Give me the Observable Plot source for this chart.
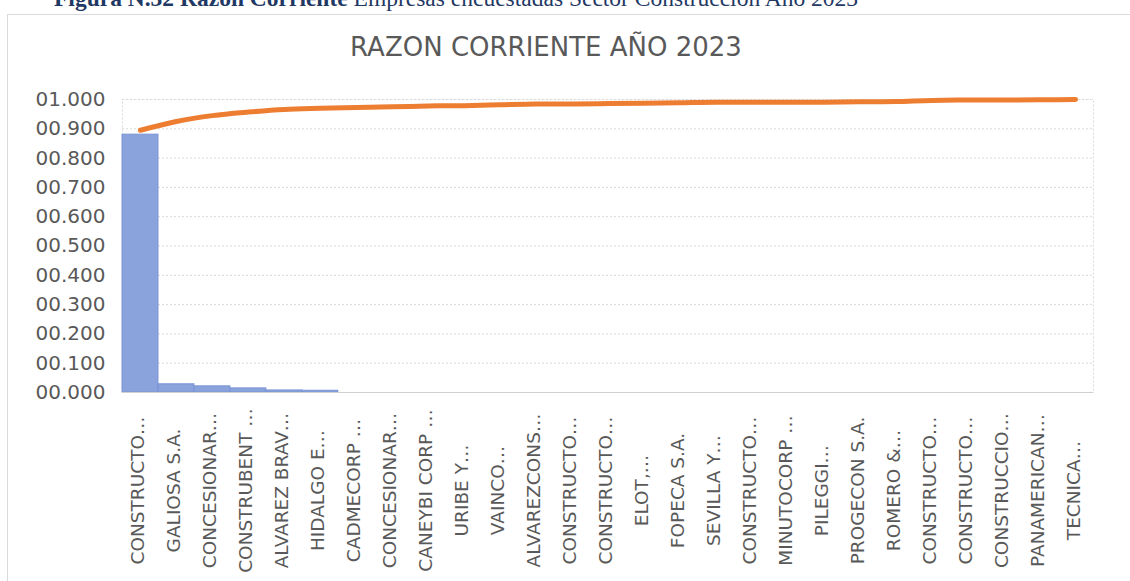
<!DOCTYPE html>
<html><head><meta charset="utf-8">
<script src="https://cdn.jsdelivr.net/npm/d3@7"></script>
<script src="https://cdn.jsdelivr.net/npm/@observablehq/plot@0.6"></script>
<style>
html,body{margin:0;padding:0;background:#fff;width:1130px;height:581px;overflow:hidden;position:relative;}
#caption{position:absolute;left:54px;top:-13px;font-family:"Liberation Serif",serif;font-size:23.5px;line-height:23.5px;color:#1f3864;white-space:nowrap;}
#frame{position:absolute;left:7px;top:14px;width:1130px;height:600px;border:1px solid #d9d9d9;box-sizing:border-box;}
#title{position:absolute;left:0;width:1092px;top:34px;text-align:center;font-family:"DejaVu Sans",sans-serif;font-size:26px;line-height:26px;color:#595959;white-space:nowrap;}
#chart{position:absolute;left:0;top:0;}
</style></head>
<body>
<div id="caption"><b>Figura N.32 Razon Corriente</b> Empresas encuestadas Sector Construcción Año 2023</div>
<div id="frame"></div>
<div id="title">RAZON CORRIENTE AÑO 2023</div>
<div id="chart"></div>
<script>
const companies = ["CONSTRUCTO…","GALIOSA S.A.","CONCESIONAR…","CONSTRUBENT …","ALVAREZ BRAV…","HIDALGO E…","CADMECORP …","CONCESIONAR…","CANEYBI CORP …","URIBE Y…","VAINCO…","ALVAREZCONS…","CONSTRUCTO…","CONSTRUCTO…","ELOT,…","FOPECA S.A.","SEVILLA Y…","CONSTRUCTO…","MINUTOCORP …","PILEGGI…","PROGECON S.A.","ROMERO &…","CONSTRUCTO…","CONSTRUCTO…","CONSTRUCCIO…","PANAMERICAN…","TECNICA…"];
const razon = [0.880,0.028,0.021,0.014,0.007,0.006,0,0,0,0,0,0,0,0,0,0,0,0,0,0,0,0,0,0,0,0,0];
const acumulado = [0.895,0.925,0.945,0.957,0.966,0.970,0.973,0.975,0.978,0.979,0.982,0.985,0.985,0.986,0.987,0.989,0.991,0.991,0.991,0.991,0.992,0.993,0.997,0.998,0.998,0.999,1.000];
const yTicks = [0,0.1,0.2,0.3,0.4,0.5,0.6,0.7,0.8,0.9,1.0];

const data = companies.map((c,i)=>({i, c, r: razon[i], a: acumulado[i]}));
const chart = Plot.plot({
  width:1130, height:581,
  marginLeft:122, marginRight:37, marginTop:99, marginBottom:189,
  style:{background:"transparent", fontFamily:"'DejaVu Sans', sans-serif", overflow:"visible"},
  x:{type:"band", domain:d3.range(companies.length), paddingInner:0, paddingOuter:0, align:0.5, round:false, axis:null},
  y:{domain:[0,1], axis:null},
  marks:[
    Plot.gridY(yTicks.slice(1), {stroke:"#d9d9d9", strokeOpacity:1, strokeDasharray:"2,2"}),
    Plot.frame({stroke:"#d9d9d9", strokeDasharray:"2,2"}),
    Plot.barY(data,{x:"i", y:"r", fill:"#8aa3dc", stroke:"#7a94d4", strokeWidth:1, insetLeft:0, insetRight:0}),
    Plot.ruleY([0],{stroke:"#d0d0d0"}),
    Plot.lineY(data,{x:"i", y:"a", stroke:"#ed7d31", strokeWidth:5, curve:"monotone-x", strokeLinecap:"round"}),
    Plot.axisY(yTicks,{tickSize:0, tickPadding:17, tickFormat:d=>"0"+d.toFixed(3), fontSize:20, fill:"#595959", label:null}),
    Plot.text(data,{x:"i", text:"c", rotate:-90, frameAnchor:"bottom", dy:98, dx:4, textAnchor:"middle", fontSize:18.5, fill:"#595959"})
  ]
});
document.getElementById("chart").appendChild(chart);
</script>
</body></html>
